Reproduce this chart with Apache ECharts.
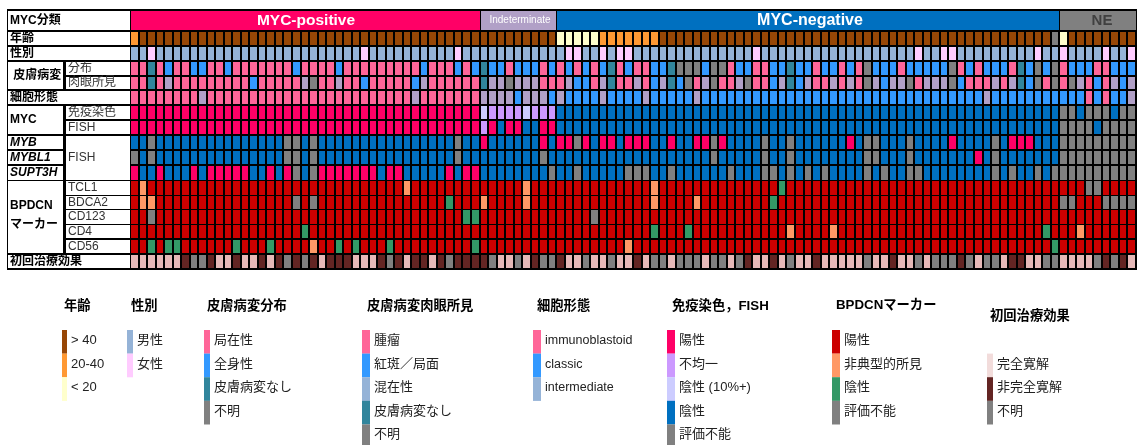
<!DOCTYPE html>
<html>
<head>
<meta charset="utf-8">
<style>
  html, body { margin: 0; padding: 0; background: #fff; }
  #main { width: 1137px; height: 445px; }
</style>
</head>
<body>
<div id="main"></div>
<script src="https://cdn.jsdelivr.net/npm/echarts@6/dist/echarts.min.js"></script>
<script>
// one letter per patient, ten to a block, 118 patients
const ageRow      = 'obbbbbbbbb bbbbbbbbbb bbbbbbbbbb bbbbbbbbbb bbbbbbbbbb yyyyyooooo oobbbbbbbb bbbbbbbbbb bbbbbbbbbb bbbbbbbbbb bbbbbbbbgy bbbbbbbb'
const sexRow      = 'mmfmmmmmmm mmmmmmmmmm mmmmmmmfmm mmmmmmmmfm mmmmmmmmmm mffmmfmffm mmmmmmmmmm mmmfmmmmmm mmmmmmmmmm mmfmmffmmm mmmmmmfmmf mmmmfmmf'
const distRow     = 'pptpbppbbp pbpppppppb ppppbppppp ppppbpppbp btbbpbbbpb pbpbpbtpbp pbbtgggbgg pbbppbbtbb pbbpbpgbbb pbbbbbgpbp bbbptbgbgp bbbppbbb'
const grossRow    = 'pptplppppp ppppbppppp lgpplppbpp pppblppppp ptllglllpp plbbpltppl pbltbgplgp plgppbltbl pplplpglbl lgplllgbpp plpltbgpgp glpbplbl'
const morphRow    = 'pppppppplp pppppppppp pppppppppp ppplpppppp pllllblllb lbbbblbbbb lbbbbblbbb bbbbbbbbbb bbbbbbbbbb bbbbbbbbbb lbbbbbbbbb bbpbpbbl'
const ihcRow      = 'rrrrrrrrrr rrrrrrrrrr rrrrrrrrrr rrrrrrrrrr rcvvvvcvvv dddddddddd dddddddddd dddddddddd dddddddddd dddddddddd dddddddddg gdgggdgg'
const fishRow     = 'rrrrrrrrrr rrrrrrrrrr rrrrrrrrrr rrrrrrrrrr rvrdrrddrr dddddddddd dddddddddd dddddddddd dddddddddd dddddddddd dddddddddg gggdgggg'
const mybRow      = 'ddgddddddd ddddddddgg dgdddddddd ddddddddgd drddddddrd rrgrdrrdrr rddrddrrgr ddddgddgdd ddddrdggdd dgddddrddd dgdrrrdddg gggggggg'
const mybl1Row    = 'gdgddddddd ddddddddgg dgdddddddd ddddddddgd ddddddddgd dddddddddd ddddddddgd ddddgddgdd ddddddggdd dgdddddddr dgdddddddg gggggggg'
const supt3hRow   = 'rddrdddrdr rrrrddrdrg dgrrrrrrrd rrdddddrdr rddddddddg ddgdddddgg gddgdddddd gdddggdgdg dgddddgdgd dggddddddd dgdgddgdgg gggggggg'
const tcl1Row     = 'rorrrrrrrr rrrrrrrrrr rrrrrrrrrr rrorrrrrrr rrrrrrorrr rrrrrrrrrr rorrrrrrrr rrrrrrerrr rrrrrrrrrr rrrrrrrrrr rrrrrrrrrr rrggrrrr'
const bdca2Row    = 'roorrrrrrr rrrrrrrrrg rgrrrrrrrr rrrrrrrerr rorrrrorrr rrrrrrrrrr rorrrrorrr rrrrrerrrr rrrrrrrrrr rrrrrrrrrr rrrrrrrrrg grrrgggg'
const cd123Row    = 'rrgrrrrrrr rrrrrrrrrr rrrrrrrrrr rrrrrrrrre errrrrrrrr rrrrgrrrrr rrrrrrrrrr rrrrrrrrrr rrrrrrrrrr rrrrrrrrrr rrrrrrrrrr rrrrrrrr'
const cd4Row      = 'rrrrrrrrrr rrrrrrrrrr errrrrrrrr rrrrrrrrrr rrrrrrrrrr rrrrrrrrrr rerrrerrrr rrrrrrrorr rrorrrrrrr rrrrrrrrrr rrrrrrrerr rorrrrrr'
const cd56Row     = 'rrereerrrr rrerrrerrr rorrererrr errrrrrrrr errrrrrrrr rrrrrrrror rrrrrrrrrr rrrrrrrrrr rrrrrrrrrr rrrrrrrrrr rrrrrrrrer rrrrrrrr'
const responseRow = 'wwwwwwnggn wwnwwnwngn gnwnnnwwwn gnwnnwngnn nngwwgwngg nwwgwwgwwn wggwgggwgg wgnwwnwgww nwwwwwgwwn wwgwgggngw ggwnnwwggw wwwgngnw'

const colCount = 118
const groupNames = ['MYC-positive', 'Indeterminate', 'MYC-negative', 'NE']
const groupStarts = [0, 41, 50, 109]
const groupEnds = [41, 50, 109, 118]

const ageLabels = ['> 40', '20-40', '< 20']
const sexLabels = ['男性', '女性']
const distLabels = ['局在性', '全身性', '皮膚病変なし', '不明']
const grossLabels = ['腫瘤', '紅斑／局面', '混在性', '皮膚病変なし', '不明']
const morphLabels = ['immunoblastoid', 'classic', 'intermediate']
const stainLabels = ['陽性', '不均一', '陰性 (10%+)', '陰性', '評価不能']
const markerLabels = ['陽性', '非典型的所見', '陰性', '評価不能']
const responseLabels = ['完全寛解', '非完全寛解', '不明']

const GRAY = '#808080'
const agePalette = { b: '#974706', o: '#ff9933', y: '#ffffcc', g: GRAY }
const sexPalette = { m: '#95b3d7', f: '#ffccff' }
const skinPalette = { p: '#ff6699', b: '#3399ff', l: '#b1a0c7', t: '#31859c', g: GRAY }
const mycPalette = { r: '#ff0066', v: '#cc99ff', c: '#ccccff', d: '#0070c0', g: GRAY }
const markerPalette = { r: '#cc0000', o: '#ff9966', e: '#339966', g: GRAY }
const responsePalette = { w: '#e6b9b8', n: '#632523', g: GRAY }

const rows = [
  [ageRow, agePalette], [sexRow, sexPalette], [distRow, skinPalette], [grossRow, skinPalette],
  [morphRow, skinPalette], [ihcRow, mycPalette], [fishRow, mycPalette], [mybRow, mycPalette],
  [mybl1Row, mycPalette], [supt3hRow, mycPalette], [tcl1Row, markerPalette], [bdca2Row, markerPalette],
  [cd123Row, markerPalette], [cd4Row, markerPalette], [cd56Row, markerPalette], [responseRow, responsePalette]
]

const FONT = '"Liberation Sans","Noto Sans CJK JP",sans-serif'
const gridLeft = 131
const gridTop = 32
const colPitch = 8.555
const rowPitch = 14.87

const cells = []
rows.forEach(function(row, r) {
  row[0].replace(/ /g, '').split('').forEach(function(code, c) {
    cells.push({ value: [c, r], itemStyle: { color: row[1][code] } })
  })
})

// the marker rows are only split by a hairline
function rowGap(r) {
  return r >= 9 && r <= 12 ? 1 : 2
}
function rowTop(r) {
  return Math.round(gridTop + r * rowPitch)
}
function rowBottom(r) {
  return Math.round(gridTop + (r + 1) * rowPitch) - rowGap(r)
}

// left hand table, white cells on a black plate
const elements = [
  { type: 'rect', shape: { x: 7, y: 9, width: 125, height: 261 }, style: { fill: '#000' } }
]
function tableCell(x0, x1, y0, y1, text, bold, size) {
  elements.push({ type: 'rect', shape: { x: x0, y: y0, width: x1 - x0, height: y1 - y0 }, style: { fill: '#fff' } })
  if (text) {
    elements.push({
      type: 'text', x: x0 + 2, y: (y0 + y1) / 2,
      style: { text: text, fill: bold ? '#000' : '#333', font: (bold ? 'bold ' : '') + (size || 11) + 'px ' + FONT, align: 'left', verticalAlign: 'middle' }
    })
  }
}
function wideRow(r, text) {
  tableCell(8, 130, rowTop(r), rowBottom(r), text, true, 12)
}
function labelSpan(r0, r1, text) {
  tableCell(8, 63, rowTop(r0), rowBottom(r1), text, true, 12)
}
function subRow(r, text) {
  tableCell(66, 130, rowTop(r), rowBottom(r), text, false, 12)
}
tableCell(8, 130, 11, 30, 'MYC分類', true, 12)
wideRow(0, '年齢')
wideRow(1, '性別')
labelSpan(2, 3, ' 皮膚病変')
subRow(2, '分布')
subRow(3, '肉眼所見')
wideRow(4, '細胞形態')
labelSpan(5, 6, 'MYC')
subRow(5, '免疫染色')
subRow(6, 'FISH')
labelSpan(7, 7, '')
labelSpan(8, 8, '')
labelSpan(9, 9, '')
tableCell(66, 130, rowTop(7), rowBottom(9), 'FISH', false, 12)
;[[7, 'MYB'], [8, 'MYBL1'], [9, 'SUPT3H']].forEach(function(g) {
  elements.push({
    type: 'text', x: 10, y: (rowTop(g[0]) + rowBottom(g[0])) / 2,
    style: { text: g[1], fill: '#000', font: 'italic bold 12px ' + FONT, align: 'left', verticalAlign: 'middle' }
  })
})
labelSpan(10, 14, '')
elements.push({ type: 'text', x: 10, y: 206, style: { text: 'BPDCN', fill: '#000', font: 'bold 12px ' + FONT, align: 'left', verticalAlign: 'middle' } })
elements.push({ type: 'text', x: 10, y: 225, style: { text: 'マーカー', fill: '#000', font: 'bold 12px ' + FONT, align: 'left', verticalAlign: 'middle' } })
subRow(10, 'TCL1')
subRow(11, 'BDCA2')
subRow(12, 'CD123')
subRow(13, 'CD4')
subRow(14, 'CD56')
wideRow(15, '初回治療効果')

// colour keys under the chart
function legendBlock(title, titleX, titleY, swatchX, swatchW, firstSlot, labels, colors, labelSize) {
  elements.push({
    type: 'text', x: titleX, y: titleY,
    style: { text: title, fill: '#000', font: 'bold 13.3px ' + FONT, align: 'left', verticalAlign: 'middle' }
  })
  labels.forEach(function(label, i) {
    const y = 330 + (firstSlot + i) * 23.6
    elements.push({ type: 'rect', shape: { x: swatchX, y: y, width: swatchW, height: 23.7 }, style: { fill: colors[i] } })
    elements.push({
      type: 'text', x: swatchX + swatchW + 4, y: y + 10.5,
      style: { text: label, fill: '#222', font: (labelSize || 13) + 'px ' + FONT, align: 'left', verticalAlign: 'middle' }
    })
  })
}
legendBlock('年齢', 64, 306, 62, 5, 0, ageLabels, ['#974706', '#ff9933', '#ffffcc'])
legendBlock('性別', 131, 306, 127, 6, 0, sexLabels, ['#95b3d7', '#ffccff'])
legendBlock('皮膚病変分布', 207, 306, 204, 6, 0, distLabels, ['#ff6699', '#3399ff', '#31859c', GRAY])
legendBlock('皮膚病変肉眼所見', 367, 306, 362, 8, 0, grossLabels, ['#ff6699', '#3399ff', '#95b3d7', '#31859c', GRAY])
legendBlock('細胞形態', 537, 306, 533, 8, 0, morphLabels, ['#ff6699', '#3399ff', '#95b3d7'], 12.5)
legendBlock('免疫染色，FISH', 672, 306, 667, 8, 0, stainLabels, ['#ff0066', '#cc99ff', '#ccccff', '#0070c0', GRAY])
legendBlock('BPDCNマーカー', 836, 305, 832, 8, 0, markerLabels, ['#cc0000', '#ff9966', '#339966', GRAY])
legendBlock('初回治療効果', 990, 316, 987, 6, 1, responseLabels, ['#f2dcdb', '#632523', GRAY])

const groupFills = ['#ff0066', '#b1a0c7', '#0070c0', GRAY]
const groupText = [
  { fill: '#fff', font: 'bold 15.5px ' + FONT, x: 306 },
  { fill: '#fff', font: '10px ' + FONT, x: 520 },
  { fill: '#fff', font: 'bold 16px ' + FONT, x: 810 },
  { fill: '#404040', font: 'bold 15px ' + FONT, x: 1102 }
]

const chart = echarts.init(document.getElementById('main'), null, { renderer: 'canvas' })
chart.setOption({
  animation: false,
  backgroundColor: '#fff',
  tooltip: { show: false },
  grid: [
    { left: gridLeft, top: gridTop, width: colCount * colPitch, height: 16 * rowPitch, show: true, backgroundColor: '#000', borderWidth: 0 },
    { left: gridLeft, top: 9, width: colCount * colPitch, height: 23, show: true, backgroundColor: '#000', borderWidth: 0 }
  ],
  xAxis: [
    { type: 'category', gridIndex: 0, data: Array.from({ length: colCount }, (v, i) => i), show: false },
    { type: 'value', gridIndex: 1, min: 0, max: colCount, show: false }
  ],
  yAxis: [
    { type: 'category', gridIndex: 0, inverse: true, data: rows.map((v, i) => i), show: false },
    { type: 'value', gridIndex: 1, min: 0, max: 1, show: false }
  ],
  graphic: { elements: elements },
  series: [
    {
      type: 'custom',
      xAxisIndex: 0,
      yAxisIndex: 0,
      silent: true,
      encode: { x: 0, y: 1 },
      data: cells,
      // cells snap to whole pixels so the black rules stay crisp
      renderItem: function(params, api) {
        const r = api.value(1)
        const p = api.coord([api.value(0), r])
        const s = api.size([1, 1])
        const x0 = Math.round(p[0] - s[0] / 2)
        const x1 = Math.round(p[0] + s[0] / 2) - 2
        const y0 = Math.round(p[1] - s[1] / 2)
        const y1 = Math.round(p[1] + s[1] / 2) - rowGap(r)
        return {
          type: 'rect',
          shape: { x: x0, y: y0, width: x1 - x0, height: y1 - y0 },
          style: { fill: api.visual('color') }
        }
      }
    },
    {
      type: 'custom',
      xAxisIndex: 1,
      yAxisIndex: 1,
      silent: true,
      data: groupNames.map((name, i) => [groupStarts[i], groupEnds[i], i]),
      renderItem: function(params, api) {
        const i = api.value(2)
        const a = api.coord([api.value(0), 1])
        const b = api.coord([api.value(1), 0])
        const x0 = Math.round(a[0])
        return {
          type: 'group',
          children: [
            { type: 'rect', shape: { x: x0, y: a[1] + 2, width: Math.round(b[0]) - x0 - 1, height: b[1] - a[1] - 4 }, style: { fill: groupFills[i] } },
            {
              type: 'text',
              x: groupText[i].x,
              y: (a[1] + b[1]) / 2,
              style: { text: groupNames[i], fill: groupText[i].fill, font: groupText[i].font, align: 'center', verticalAlign: 'middle' }
            }
          ]
        }
      }
    }
  ]
})
</script>
</body>
</html>
